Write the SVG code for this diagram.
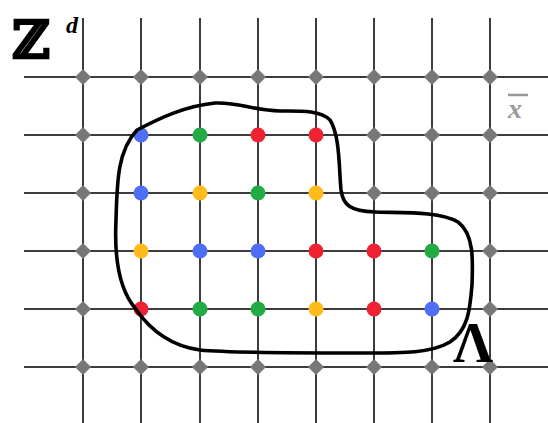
<svg xmlns="http://www.w3.org/2000/svg" width="548" height="423" viewBox="0 0 548 423">
<style>
.grid line{stroke:#3c3c3c;stroke-width:2}
.g{fill:#777}
.b{fill:#4d6ef5}
.gr{fill:#22aa44}
.r{fill:#ee2233}
.y{fill:#ffbb1c}
.curve{fill:none;stroke:#000;stroke-width:3.6;stroke-linejoin:round}
</style>
<defs>
<path id="dia" d="M0,-8 L8,0 L0,8 L-8,0 Z"/>
</defs>
<rect width="548" height="423" fill="#fff"/>
<g id="grid" class="grid">
<line x1="24" y1="77" x2="548" y2="77"/>
<line x1="24" y1="135" x2="548" y2="135"/>
<line x1="24" y1="193" x2="548" y2="193"/>
<line x1="24" y1="251" x2="548" y2="251"/>
<line x1="24" y1="309" x2="548" y2="309"/>
<line x1="24" y1="367" x2="548" y2="367"/>
<line x1="83" y1="18" x2="83" y2="423"/>
<line x1="141" y1="18" x2="141" y2="423"/>
<line x1="200" y1="18" x2="200" y2="423"/>
<line x1="258" y1="18" x2="258" y2="423"/>
<line x1="316" y1="18" x2="316" y2="423"/>
<line x1="374" y1="18" x2="374" y2="423"/>
<line x1="432" y1="18" x2="432" y2="423"/>
<line x1="490" y1="18" x2="490" y2="423"/>
</g>
<g id="outer-points" class="g">
<use href="#dia" x="83" y="77"/><use href="#dia" x="141" y="77"/><use href="#dia" x="200" y="77"/><use href="#dia" x="258" y="77"/><use href="#dia" x="316" y="77"/><use href="#dia" x="374" y="77"/><use href="#dia" x="432" y="77"/><use href="#dia" x="490" y="77"/>
<use href="#dia" x="83" y="367"/><use href="#dia" x="141" y="367"/><use href="#dia" x="200" y="367"/><use href="#dia" x="258" y="367"/><use href="#dia" x="316" y="367"/><use href="#dia" x="374" y="367"/><use href="#dia" x="432" y="367"/><use href="#dia" x="490" y="367"/>
<use href="#dia" x="83" y="135"/><use href="#dia" x="83" y="193"/><use href="#dia" x="83" y="251"/><use href="#dia" x="83" y="309"/>
<use href="#dia" x="490" y="135"/><use href="#dia" x="490" y="193"/><use href="#dia" x="490" y="251"/><use href="#dia" x="490" y="309"/>
<use href="#dia" x="374" y="135"/><use href="#dia" x="432" y="135"/>
<use href="#dia" x="374" y="193"/><use href="#dia" x="432" y="193"/>
</g>
<g id="inner-points">
<circle class="b" cx="141" cy="135" r="7.5"/><circle class="gr" cx="200" cy="135" r="7.5"/><circle class="r" cx="258" cy="135" r="7.5"/><circle class="r" cx="316" cy="135" r="7.5"/>
<circle class="b" cx="141" cy="193" r="7.5"/><circle class="y" cx="200" cy="193" r="7.5"/><circle class="gr" cx="258" cy="193" r="7.5"/><circle class="y" cx="316" cy="193" r="7.5"/>
<circle class="y" cx="141" cy="251" r="7.5"/><circle class="b" cx="200" cy="251" r="7.5"/><circle class="b" cx="258" cy="251" r="7.5"/><circle class="r" cx="316" cy="251" r="7.5"/><circle class="r" cx="374" cy="251" r="7.5"/><circle class="gr" cx="432" cy="251" r="7.5"/>
<circle class="r" cx="141" cy="309" r="7.5"/><circle class="gr" cx="200" cy="309" r="7.5"/><circle class="gr" cx="258" cy="309" r="7.5"/><circle class="y" cx="316" cy="309" r="7.5"/><circle class="r" cx="374" cy="309" r="7.5"/><circle class="b" cx="432" cy="309" r="7.5"/>
</g>
<g id="lambda-region">
<path class="curve" d="M137,130 C160,118 185,106 215,103 C240,102 250,110 280,111 C300,111 320,110 330,120 C340,135 339,170 341,190 C343,205 350,211 375,212 C400,213 440,211 458,222 C474,234 473,260 472,285 C470,310 468,330 450,342 C430,354 400,353 350,353 C300,353 230,353 200,350 C170,346 150,330 135,308 C120,290 114,260 116,220 C117,180 118,150 137,130 Z"/>
</g>
<g id="labels" font-family="'DejaVu Serif', 'Liberation Serif', serif" font-weight="bold">
<text x="12" y="58" font-size="52" stroke="#000" stroke-width="1.1">ℤ</text>
<text x="66" y="33" font-size="24" font-style="italic" font-family="'Liberation Serif', serif">d</text>
<text x="508" y="118" font-size="28" font-style="italic" fill="#999" font-family="'Liberation Serif', serif">x</text>
<line x1="508" y1="95" x2="528" y2="95" stroke="#999" stroke-width="2.5"/>
<text x="453" y="362" font-size="56" font-family="'Liberation Serif', serif">Λ</text>
</g>
</svg>
